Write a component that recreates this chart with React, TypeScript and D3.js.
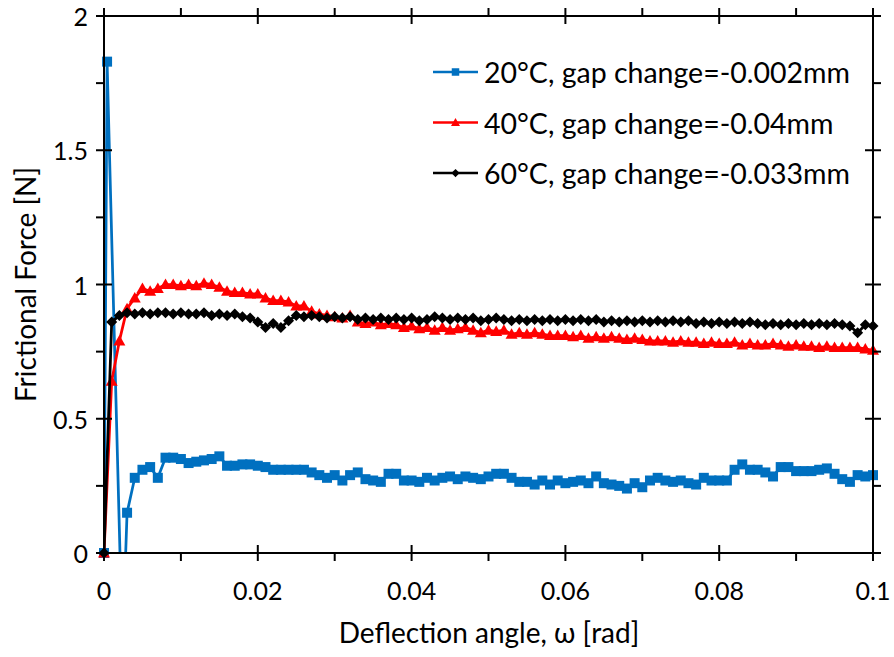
import React from 'react';
import * as d3 from 'd3';

// ---------- data ----------
const xTicks = [0, 0.02, 0.04, 0.06, 0.08, 0.1];
const xTickLabels = ['0', '0.02', '0.04', '0.06', '0.08', '0.1'];
const xMinorTicks = [0.01, 0.03, 0.05, 0.07, 0.09];
const yTicks = [0, 0.5, 1, 1.5, 2];
const yTickLabels = ['0', '0.5', '1', '1.5', '2'];
const yMinorTicks = [0.25, 0.75, 1.25, 1.75];

const seriesNames = [
  '20°C, gap change=-0.002mm',
  '40°C, gap change=-0.04mm',
  '60°C, gap change=-0.033mm',
];
const seriesColors = ['#0070C0', '#FF0000', '#000000'];

// common sampling grid (rad) for 40°C and 60°C series
const angleGrid = d3.range(0, 101).map((i) => i / 1000);

// 20°C: first points are irregular, then the 0.001 grid from 0.003
const blueHeadX = [0, 0.0004, 0.0024];
const blueHeadY = [0, 1.83, -0.35];
const blueTailY = [
  0.15, 0.28, 0.31, 0.32, 0.28, 0.355, 0.355, 0.35, 0.335, 0.34, 0.345, 0.35, 0.36, 0.325, 0.325,
  0.33, 0.33, 0.325, 0.32, 0.31, 0.31, 0.31, 0.31, 0.31, 0.30, 0.29, 0.28, 0.29, 0.27, 0.29, 0.30,
  0.275, 0.27, 0.265,
  0.295, 0.295, 0.27, 0.27, 0.265, 0.28, 0.27, 0.28, 0.285, 0.275, 0.285, 0.28, 0.275, 0.285, 0.295,
  0.295, 0.28, 0.265, 0.265, 0.255, 0.27, 0.255, 0.27, 0.26, 0.265, 0.27, 0.26, 0.285, 0.26, 0.255,
  0.25, 0.24, 0.26, 0.245, 0.27, 0.28, 0.27, 0.265,
  0.27, 0.26, 0.255, 0.28, 0.27, 0.27, 0.27, 0.31, 0.33, 0.31, 0.31, 0.30, 0.285, 0.32, 0.32, 0.305,
  0.305, 0.305, 0.31, 0.315, 0.295, 0.275, 0.265, 0.29, 0.285, 0.29,
];

const redY = [
  0, 0.64, 0.79, 0.91, 0.95, 0.985, 0.975, 0.985, 1.0, 1.0, 0.995, 1.0, 0.995, 1.005, 1.0, 0.99,
  0.975, 0.97, 0.97, 0.965, 0.965, 0.95, 0.94, 0.94, 0.935, 0.92, 0.92, 0.9, 0.89, 0.885, 0.88,
  0.875, 0.885, 0.86, 0.855, 0.86, 0.85, 0.855, 0.85, 0.84, 0.845, 0.835, 0.84, 0.83, 0.84, 0.83,
  0.835, 0.84, 0.83, 0.82, 0.83, 0.825, 0.83, 0.815, 0.82, 0.815, 0.82, 0.815, 0.81, 0.81, 0.81,
  0.805, 0.81, 0.8, 0.805, 0.8, 0.805, 0.8, 0.795, 0.8, 0.795, 0.79, 0.79, 0.79, 0.785, 0.79,
  0.785, 0.785, 0.78, 0.785, 0.78, 0.78, 0.785, 0.775, 0.78, 0.775, 0.775, 0.78, 0.775, 0.77,
  0.775, 0.77, 0.77, 0.765, 0.77, 0.765, 0.765, 0.765, 0.765, 0.76, 0.755,
];

const blackY = [
  0, 0.86, 0.885, 0.895, 0.89, 0.895, 0.89, 0.895, 0.895, 0.89, 0.895, 0.89, 0.89, 0.895, 0.885,
  0.89, 0.885, 0.89, 0.88, 0.875, 0.86, 0.84, 0.855, 0.84, 0.865, 0.885, 0.88, 0.885, 0.88, 0.875,
  0.88, 0.875, 0.88, 0.87, 0.875, 0.87, 0.875, 0.87, 0.875, 0.87, 0.875, 0.865, 0.87, 0.88, 0.875,
  0.87, 0.875, 0.87, 0.875, 0.865, 0.87, 0.875, 0.87, 0.865, 0.87, 0.865, 0.87, 0.865, 0.87, 0.865,
  0.87, 0.865, 0.87, 0.865, 0.87, 0.86, 0.865, 0.86, 0.865, 0.86, 0.865, 0.86, 0.865, 0.86, 0.865,
  0.86, 0.865, 0.855, 0.86, 0.855, 0.86, 0.855, 0.86, 0.855, 0.86, 0.855, 0.85, 0.855, 0.85, 0.855,
  0.85, 0.855, 0.85, 0.855, 0.85, 0.855, 0.85, 0.845, 0.82, 0.85, 0.845,
];

// ---------- layout ----------
const W = 894;
const H = 657;
const X0 = 104;
const X1 = 873;
const Y0 = 553;
const Y1 = 16;
const FONT = 'Lato, "Open Sans", sans-serif';

type Pt = [number, number];

function Marker({ kind, x, y, color, s = 1 }: { kind: number; x: number; y: number; color: string; s?: number }) {
  if (kind === 0) return <rect x={x - 5 * s} y={y - 5 * s} width={10 * s} height={10 * s} fill={color} />;
  if (kind === 1)
    return (
      <path d={`M${x},${y - 6 * s}L${x + 6 * s},${y + 4.5 * s}L${x - 6 * s},${y + 4.5 * s}Z`} fill={color} />
    );
  return <path d={`M${x},${y - 5.5 * s}L${x + 5.5 * s},${y}L${x},${y + 5.5 * s}L${x - 5.5 * s},${y}Z`} fill={color} />;
}

export default function App() {
  const xs = d3.scaleLinear().domain([0, 0.1]).range([X0, X1]);
  const ys = d3.scaleLinear().domain([0, 2]).range([Y0, Y1]);

  const blueX = blueHeadX.concat(blueTailY.map((_, i) => angleGrid[i + 3]));
  const blueY = blueHeadY.concat(blueTailY);
  const series: Pt[][] = [
    blueX.map((x, i) => [x, blueY[i]] as Pt),
    angleGrid.map((x, i) => [x, redY[i]] as Pt),
    angleGrid.map((x, i) => [x, blackY[i]] as Pt),
  ];
  const line = d3
    .line<Pt>()
    .x((d) => xs(d[0]))
    .y((d) => ys(d[1]));

  const drawOrder = [0, 1, 2];

  return (
    <svg
      width={W}
      height={H}
      style={{ position: 'fixed', left: 0, top: 0, background: '#fff' }}
      fontFamily={FONT}
    >
      <defs>
        <clipPath id="plot">
          <rect x={X0} y={Y1} width={X1 - X0} height={Y0 - Y1} />
        </clipPath>
      </defs>
      <rect x={0} y={0} width={W} height={H} fill="#fff" />

      {/* series */}
      {drawOrder.map((s) => (
        <g key={s}>
          <path
            d={line(series[s]) || ''}
            fill="none"
            stroke={seriesColors[s]}
            strokeWidth={2.75}
            strokeLinejoin="round"
            clipPath="url(#plot)"
          />
          {series[s]
            .filter((d) => d[1] >= 0 && d[1] <= 2)
            .map((d, i) => (
              <Marker key={i} kind={s} x={xs(d[0])} y={ys(d[1])} color={seriesColors[s]} />
            ))}
        </g>
      ))}

      {/* axes frame */}
      <g stroke="#000" strokeWidth={2}>
        <line x1={X0} x2={X1} y1={Y0} y2={Y0} />
        <line x1={X0} x2={X1} y1={Y1} y2={Y1} />
        <line x1={X0} x2={X0} y1={Y1} y2={Y0} />
        <line x1={X1} x2={X1} y1={Y1} y2={Y0} />
        {xTicks.map((t) => (
          <g key={'xt' + t}>
            <line x1={xs(t)} x2={xs(t)} y1={Y0 - 8} y2={Y0 + 8} />
            <line x1={xs(t)} x2={xs(t)} y1={Y1 - 8} y2={Y1 + 8} />
          </g>
        ))}
        {xMinorTicks.map((t) => (
          <g key={'xm' + t}>
            <line x1={xs(t)} x2={xs(t)} y1={Y0} y2={Y0 + 8} />
            <line x1={xs(t)} x2={xs(t)} y1={Y1} y2={Y1 - 8} />
          </g>
        ))}
        {yTicks.map((t) => (
          <g key={'yt' + t}>
            <line x1={X0 - 8} x2={X0 + 8} y1={ys(t)} y2={ys(t)} />
            <line x1={X1 - 8} x2={X1 + 8} y1={ys(t)} y2={ys(t)} />
          </g>
        ))}
        {yMinorTicks.map((t) => (
          <g key={'ym' + t}>
            <line x1={X0 - 8} x2={X0} y1={ys(t)} y2={ys(t)} />
            <line x1={X1} x2={X1 + 8} y1={ys(t)} y2={ys(t)} />
          </g>
        ))}
      </g>

      {/* tick labels */}
      {xTicks.map((t, i) => (
        <text key={'xl' + t} x={xs(t)} y={590} textAnchor="middle" dominantBaseline="central" fontSize={25} fill="#000">
          {xTickLabels[i]}
        </text>
      ))}
      {yTicks.map((t, i) => (
        <text key={'yl' + t} x={88} y={ys(t)} textAnchor="end" dominantBaseline="central" fontSize={25} fill="#000">
          {yTickLabels[i]}
        </text>
      ))}

      {/* axis titles */}
      <text x={489} y={632} textAnchor="middle" dominantBaseline="central" fontSize={28} fill="#000">
        Deflection angle, ω [rad]
      </text>
      <text
        transform={`translate(25,${(Y0 + Y1) / 2}) rotate(-90)`}
        textAnchor="middle"
        dominantBaseline="central"
        fontSize={28}
        fill="#000"
      >
        Frictional Force [N]
      </text>

      {/* legend */}
      {seriesNames.map((name, i) => {
        const ly = 72 + i * 50.5;
        return (
          <g key={name}>
            <line x1={433} x2={478} y1={ly} y2={ly} stroke={seriesColors[i]} strokeWidth={2.5} />
            <Marker kind={i} x={455.5} y={ly} color={seriesColors[i]} s={0.75} />
            <text x={484} y={ly} dominantBaseline="central" fontSize={28.5} fill="#000">
              {name}
            </text>
          </g>
        );
      })}
    </svg>
  );
}
